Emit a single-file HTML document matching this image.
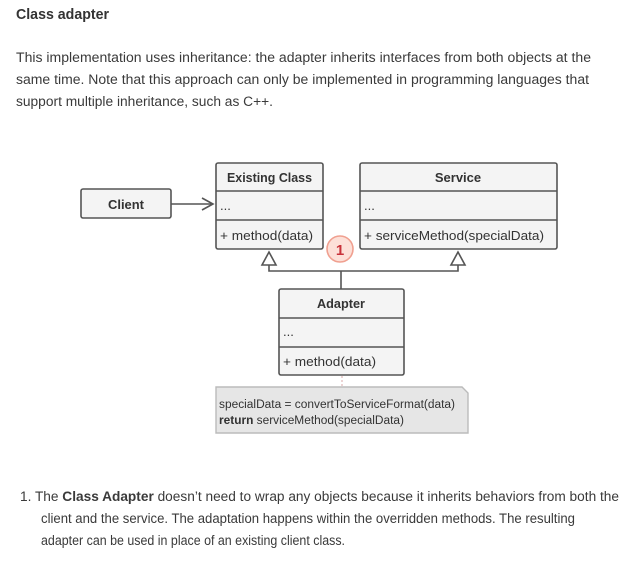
<!DOCTYPE html>
<html><head><meta charset="utf-8"><style>
html,body{margin:0;padding:0;background:#fff;}
svg{display:block;}
text{font-family:"Liberation Sans",sans-serif;}
.p{font-size:13.5px;fill:#3a3a3a;}
.d{font-family:"Liberation Sans",sans-serif;font-size:13px;fill:#333;}
.b{font-weight:bold;}
.box{fill:#f4f4f4;stroke:#555;stroke-width:1.6;}
.ln{stroke:#555;stroke-width:1.6;fill:none;}
</style></head><body>
<svg width="630" height="563" viewBox="0 0 630 563" xmlns="http://www.w3.org/2000/svg">
<text x="16" y="19" class="p b" style="font-size:14.5px;fill:#333" textLength="93" lengthAdjust="spacingAndGlyphs">Class adapter</text>
<text x="16" y="62" class="p" textLength="575" lengthAdjust="spacingAndGlyphs">This implementation uses inheritance: the adapter inherits interfaces from both objects at the</text>
<text x="16" y="84" class="p" textLength="573" lengthAdjust="spacingAndGlyphs">same time. Note that this approach can only be implemented in programming languages that</text>
<text x="16" y="106" class="p" textLength="257" lengthAdjust="spacingAndGlyphs">support multiple inheritance, such as C++.</text>

<!-- Client -->
<rect x="81" y="189" width="90" height="29" rx="2" class="box"/>
<text x="126" y="209" class="d b" text-anchor="middle" textLength="36" lengthAdjust="spacingAndGlyphs">Client</text>
<line x1="171" y1="204" x2="213" y2="204" class="ln"/>
<polyline points="202,198 213,204 202,210" class="ln"/>

<!-- Existing Class -->
<rect x="216" y="163" width="107" height="86" rx="2" class="box"/>
<line x1="216" y1="191" x2="323" y2="191" class="ln"/>
<line x1="216" y1="220" x2="323" y2="220" class="ln"/>
<text x="227" y="182" class="d b" textLength="85" lengthAdjust="spacingAndGlyphs">Existing Class</text>
<text x="220" y="210" class="d">...</text>
<text x="220" y="240" class="d" textLength="93" lengthAdjust="spacingAndGlyphs">+ method(data)</text>

<!-- Service -->
<rect x="360" y="163" width="197" height="86" rx="2" class="box"/>
<line x1="360" y1="191" x2="557" y2="191" class="ln"/>
<line x1="360" y1="220" x2="557" y2="220" class="ln"/>
<text x="458" y="182" class="d b" text-anchor="middle">Service</text>
<text x="364" y="210" class="d">...</text>
<text x="364" y="240" class="d" textLength="180" lengthAdjust="spacingAndGlyphs">+ serviceMethod(specialData)</text>

<!-- inheritance -->
<polygon points="269,252 262,265 276,265" fill="#fff" stroke="#555" stroke-width="1.6"/>
<polygon points="458,252 451,265 465,265" fill="#fff" stroke="#555" stroke-width="1.6"/>
<polyline points="269,265 269,271 458,271 458,265" class="ln"/>
<line x1="341" y1="271" x2="341" y2="289" class="ln"/>

<circle cx="340" cy="249" r="13" fill="#fde0d8" stroke="#f0a090" stroke-width="1.6"/>
<text x="340" y="255" text-anchor="middle" style="font-size:15px;font-weight:bold;fill:#c8323a">1</text>

<!-- Adapter -->
<rect x="279" y="289" width="125" height="86" rx="2" class="box"/>
<line x1="279" y1="318" x2="404" y2="318" class="ln"/>
<line x1="279" y1="347" x2="404" y2="347" class="ln"/>
<text x="341" y="308" class="d b" text-anchor="middle" textLength="48" lengthAdjust="spacingAndGlyphs">Adapter</text>
<text x="283" y="336" class="d">...</text>
<text x="283" y="366" class="d" textLength="93" lengthAdjust="spacingAndGlyphs">+ method(data)</text>

<line x1="342" y1="376" x2="342" y2="387" stroke="#d8a8a8" stroke-width="1" stroke-dasharray="2,2"/>
<path d="M216,387 L462,387 L468,393 L468,433 L216,433 Z" fill="#e6e6e6" stroke="#bbb" stroke-width="1.4"/>
<text x="219" y="408" class="d" style="font-size:11.5px" textLength="236" lengthAdjust="spacingAndGlyphs">specialData = convertToServiceFormat(data)</text>
<text x="219" y="424" class="d" style="font-size:11.5px" textLength="185" lengthAdjust="spacingAndGlyphs"><tspan font-weight="bold">return</tspan> serviceMethod(specialData)</text>

<text x="20" y="501" class="p" textLength="599" lengthAdjust="spacingAndGlyphs">1. The <tspan font-weight="bold">Class Adapter</tspan> doesn’t need to wrap any objects because it inherits behaviors from both the</text>
<text x="41" y="523" class="p" textLength="534" lengthAdjust="spacingAndGlyphs">client and the service. The adaptation happens within the overridden methods. The resulting</text>
<text x="41" y="545" class="p" textLength="304" lengthAdjust="spacingAndGlyphs">adapter can be used in place of an existing client class.</text>
</svg>
</body></html>
